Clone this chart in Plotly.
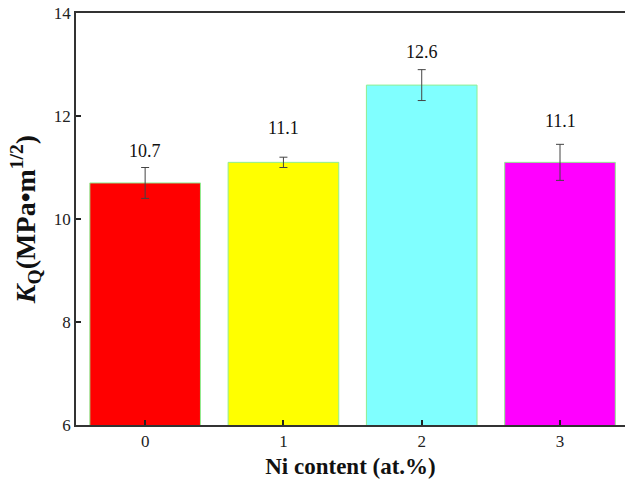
import plotly.graph_objects as go

categories = ["0", "1", "2", "3"]
values = [10.7, 11.1, 12.6, 11.1]
errors = [0.3, 0.1, 0.3, 0.35]
labels = ["10.7", "11.1", "12.6", "11.1"]
colors = ["#FF0000", "#FFFF00", "#80FFFF", "#FF00FF"]
label_shift = [17, 29, 18, 23]
y_ticks = [6, 8, 10, 12, 14]

FONT = "Liberation Serif, Times New Roman, serif"

fig = go.Figure()
fig.add_trace(go.Bar(
    x=[0, 1, 2, 3], y=values,
    marker=dict(color=colors, line=dict(color="#90EE90", width=1)),
    width=0.8,
    error_y=dict(type="data", array=errors, visible=True, color="#444444", thickness=1, width=4),
    showlegend=False,
))

for i, (v, e, t, s) in enumerate(zip(values, errors, labels, label_shift)):
    fig.add_annotation(x=i, y=v + e, text=t, showarrow=False, yshift=s,
                       font=dict(family=FONT, size=18, color="#111111"),
                       yanchor="middle")

fig.update_layout(
    width=625, height=483,
    margin=dict(l=76, r=0, t=13, b=58),
    plot_bgcolor="white", paper_bgcolor="white",
    font=dict(family=FONT, color="#111111"),
    xaxis=dict(
        range=[-0.5, 3.47], tickmode="array", tickvals=[0, 1, 2, 3], ticktext=categories,
        ticks="inside", ticklen=5, tickwidth=1.5, tickcolor="#222222",
        showline=True, linecolor="#333333", linewidth=1.5, mirror=True,
        showgrid=False, zeroline=False, automargin=False,
        tickfont=dict(family=FONT, size=17, color="#222222"),
        title=dict(text="<b>Ni content (at.%)</b>", font=dict(family=FONT, size=23, color="#111111"), standoff=8),
    ),
    yaxis=dict(
        range=[6, 14], tickvals=y_ticks,
        ticks="inside", ticklen=5, tickwidth=1.5, tickcolor="#222222",
        showline=True, linecolor="#333333", linewidth=1.5,
        showgrid=False, zeroline=False, automargin=False,
        tickfont=dict(family=FONT, size=17, color="#222222"),
        title=dict(text="<b><i>K</i><sub>Q</sub>(MPa•m<sup>1/2</sup>)</b>", font=dict(family=FONT, size=28, color="#111111"), standoff=10),
    ),
)

fig.write_html("out.html", config={"displayModeBar": False},
               post_script="document.body.style.margin='0';document.body.style.overflow='hidden';")
